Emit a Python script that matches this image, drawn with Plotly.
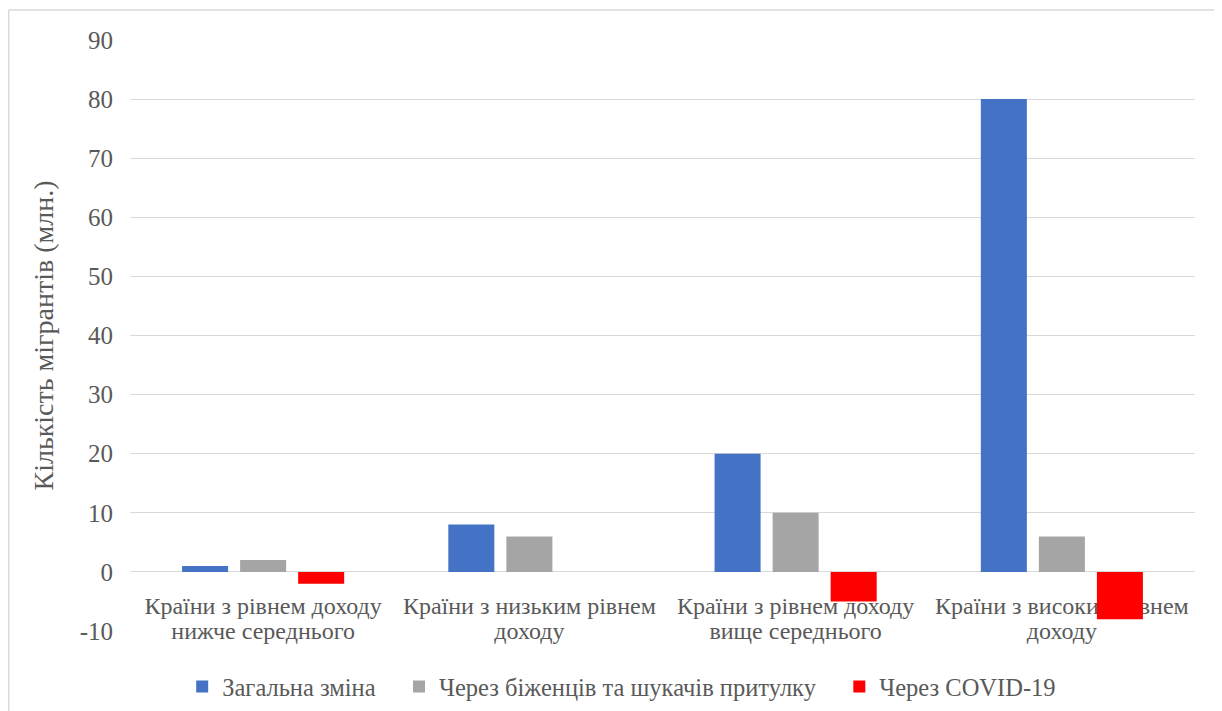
import plotly.graph_objects as go

categories = [
    "Країни з рівнем доходу нижче середнього",
    "Країни з низьким рівнем доходу",
    "Країни з рівнем доходу вище середнього",
    "Країни з високим рівнем доходу",
]
label_line1 = ["Країни з рівнем доходу", "Країни з низьким рівнем",
               "Країни з рівнем доходу", "Країни з високим рівнем"]
label_line2 = ["нижче середнього", "доходу", "вище середнього", "доходу"]

total_change = [1, 8, 20, 80]
refugees = [2, 6, 10, 6]
covid = [-2, 0, -5, -8]

series_names = ["Загальна зміна", "Через біженців та шукачів притулку", "Через COVID-19"]
legend_pad = ["\u00a0" * 3, "\u00a0" * 3, ""]
colors = ["#4472C4", "#A5A5A5", "#FF0000"]

y_ticks = [-10, 0, 10, 20, 30, 40, 50, 60, 70, 80, 90]
y_ticktext = [str(v) for v in y_ticks]
y_range = [-10, 90]

FONT = "Liberation Serif"
TXT = "#595959"
CLEAR = "rgba(0,0,0,0)"

fig = go.Figure()
for name, pad, vals, col in zip(series_names, legend_pad, [total_change, refugees, covid], colors):
    fig.add_trace(go.Bar(x=categories, y=vals, name=name + pad,
                         marker=dict(color=col, line=dict(width=0))))

# invisible carrier trace for the second line of category labels
fig.add_trace(go.Scatter(x=categories, y=[0] * len(categories), xaxis="x2", mode="markers",
                         marker=dict(opacity=0), showlegend=False, hoverinfo="skip"))

zero_pos = (0 - y_range[0]) / (y_range[1] - y_range[0])

fig.update_layout(
    width=1222, height=711,
    margin=dict(l=122, r=35, t=32, b=88, autoexpand=False),
    paper_bgcolor="white", plot_bgcolor="white",
    barmode="group", bargap=0.346, bargroupgap=0.207,
    font=dict(family=FONT, color=TXT, size=20),
    legend=dict(orientation="h", x=0.049, xanchor="left", y=-0.094, yanchor="middle",
                font=dict(family=FONT, size=24.5, color=TXT), itemwidth=30,
                traceorder="normal"),
    xaxis=dict(anchor="free", position=zero_pos, layer="below traces",
               tickvals=categories, ticktext=label_line1,
               showgrid=False, showline=False, ticks="outside", ticklen=12, tickcolor=CLEAR,
               tickfont=dict(family=FONT, size=24, color=TXT)),
    xaxis2=dict(matches="x", overlaying="x", anchor="free", position=zero_pos,
                layer="below traces", tickvals=categories, ticktext=label_line2,
                showgrid=False, showline=False, ticks="outside", ticklen=37, tickcolor=CLEAR,
                tickfont=dict(family=FONT, size=24, color=TXT)),
    yaxis=dict(range=y_range, tickvals=y_ticks, ticktext=y_ticktext, showgrid=True,
               gridcolor="#D9D9D9", gridwidth=1, zeroline=True, zerolinecolor="#D9D9D9",
               zerolinewidth=1, ticks="outside", ticklen=11, tickcolor=CLEAR, showline=False,
               tickfont=dict(family=FONT, size=25, color=TXT),
               title=dict(text="Кількість мігрантів (млн.)", standoff=17,
                          font=dict(family=FONT, size=28, color=TXT))),
    shapes=[
        dict(type="line", xref="paper", yref="paper", x0=-0.1139, x1=1.04, y0=1.0508, y1=1.0508,
             line=dict(color="#D9D9D9", width=1.5)),
        dict(type="line", xref="paper", yref="paper", x0=-0.1139, x1=-0.1139, y0=1.0508, y1=-0.16,
             line=dict(color="#D9D9D9", width=1.5)),
    ],
)

fig.write_html("out.html")
